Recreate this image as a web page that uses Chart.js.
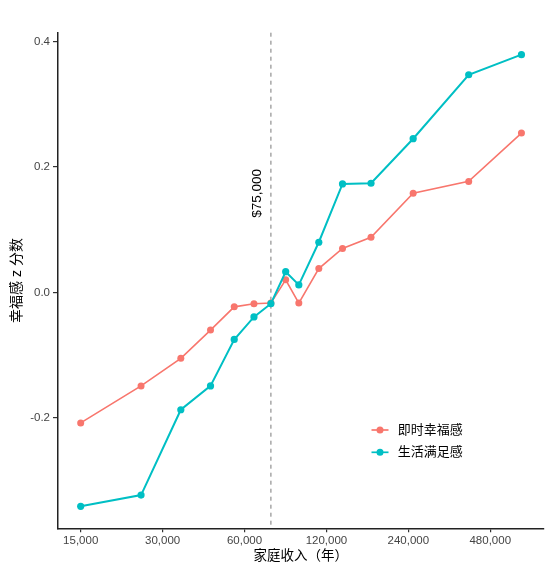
<!DOCTYPE html>
<html>
<head>
<meta charset="utf-8">
<script src="https://cdn.jsdelivr.net/npm/chart.js@4.4.1/dist/chart.umd.min.js"></script>
<style>
  html, body { margin: 0; padding: 0; background: #fff; }
  #wrap { width: 552px; height: 570px; position: relative; }
</style>
</head>
<body>
<div id="wrap"><canvas id="chart"></canvas></div>
<script>
// household income (bin midpoints) and mean z-scores
const incomes = [15000, 25000, 35000, 45000, 55000, 65000, 75000, 85000, 95000, 112500, 137500, 175000, 250000, 400000, 625000];
const experienced = [-0.208, -0.149, -0.105, -0.060, -0.023, -0.018, -0.017, 0.020, -0.017, 0.038, 0.070, 0.088, 0.158, 0.177, 0.254];
const evaluative = [-0.341, -0.323, -0.187, -0.149, -0.075, -0.039, -0.018, 0.033, 0.012, 0.080, 0.173, 0.174, 0.245, 0.347, 0.379];
const xTicks = [15000, 30000, 60000, 120000, 240000, 480000];
const yTicks = [-0.2, 0, 0.2, 0.4];
const seriesNames = ['即时幸福感', '生活满足感'];
const seriesColors = ['#F8766D', '#00BFC4'];
const threshold = 75000;
const thresholdLabel = '$75,000';

const FONT = '"Liberation Sans", "Noto Sans CJK SC", sans-serif';

const toPoints = ys => incomes.map((x, i) => ({ x: x, y: ys[i] }));

// dashed reference line + its label, drawn under the series
const thresholdPlugin = {
  id: 'threshold',
  beforeDatasetsDraw(chart) {
    const { ctx, chartArea, scales } = chart;
    const x = scales.x.getPixelForValue(threshold);
    ctx.save();
    ctx.strokeStyle = '#999';
    ctx.lineWidth = 1.3;
    ctx.setLineDash([4, 4]);
    ctx.beginPath();
    ctx.moveTo(x, chartArea.top);
    ctx.lineTo(x, chartArea.bottom);
    ctx.stroke();
    ctx.setLineDash([]);
    ctx.translate(x - 14, scales.y.getPixelForValue(0.158));
    ctx.rotate(-Math.PI / 2);
    ctx.fillStyle = '#000';
    ctx.font = '13.5px ' + FONT;
    ctx.textAlign = 'center';
    ctx.textBaseline = 'middle';
    ctx.fillText(thresholdLabel, 0, 0);
    ctx.restore();
  }
};

// legend sits inside the panel, lower right
const legendPlugin = {
  id: 'insideLegend',
  afterDraw(chart) {
    const { ctx, chartArea } = chart;
    const cx = chartArea.right - 163.3;
    let cy = chartArea.bottom - 98.3;
    ctx.save();
    ctx.font = '13px ' + FONT;
    ctx.textBaseline = 'middle';
    seriesNames.forEach((name, i) => {
      ctx.strokeStyle = seriesColors[i];
      ctx.fillStyle = seriesColors[i];
      ctx.lineWidth = 1.7;
      ctx.beginPath();
      ctx.moveTo(cx - 8.5, cy);
      ctx.lineTo(cx + 8.5, cy);
      ctx.stroke();
      ctx.beginPath();
      ctx.arc(cx, cy, 3.5, 0, Math.PI * 2);
      ctx.fill();
      ctx.fillStyle = '#000';
      ctx.fillText(name, cx + 17.7, cy);
      cy += 22.3;
    });
    ctx.restore();
  }
};

new Chart(document.getElementById('chart'), {
  type: 'line',
  data: {
    datasets: [
      {
        label: seriesNames[0],
        data: toPoints(experienced),
        borderColor: seriesColors[0],
        backgroundColor: seriesColors[0],
        borderWidth: 1.6,
        pointRadius: 3.5,
        pointBorderWidth: 0,
        order: 1
      },
      {
        label: seriesNames[1],
        data: toPoints(evaluative),
        borderColor: seriesColors[1],
        backgroundColor: seriesColors[1],
        borderWidth: 2,
        pointRadius: 3.6,
        pointBorderWidth: 0,
        order: 0
      }
    ]
  },
  options: {
    responsive: true,
    maintainAspectRatio: false,
    animation: false,
    events: [],
    layout: { padding: { top: 32.7, right: 8.7, left: 0, bottom: 0 } },
    plugins: {
      legend: { display: false },
      tooltip: { enabled: false }
    },
    scales: {
      x: {
        type: 'logarithmic',
        min: 12380,
        max: 752000,
        afterBuildTicks: s => { s.ticks = xTicks.map(v => ({ value: v })); },
        afterFit: s => { s.height = 41.7; },
        ticks: {
          autoSkip: false,
          maxRotation: 0,
          padding: 2,
          color: '#444',
          font: { family: FONT, size: 11.5 },
          callback: v => Number(v).toLocaleString('en-US')
        },
        grid: { display: true, drawOnChartArea: false, drawTicks: true, tickLength: 4, color: '#333', lineWidth: 1.2 },
        border: { display: true, color: '#222', width: 1.5 },
        title: {
          display: true,
          text: '家庭收入（年）',
          color: '#000',
          font: { family: FONT, size: 13.5 },
          padding: { top: 0, bottom: 5.3 }
        }
      },
      y: {
        type: 'linear',
        min: -0.376,
        max: 0.414,
        afterBuildTicks: s => { s.ticks = yTicks.map(v => ({ value: v })); },
        afterFit: s => { s.width = 58; },
        ticks: {
          padding: 3,
          color: '#444',
          font: { family: FONT, size: 11.5 },
          callback: v => Number(v).toFixed(1)
        },
        grid: { display: true, drawOnChartArea: false, drawTicks: true, tickLength: 5, color: '#333', lineWidth: 1.2 },
        border: { display: true, color: '#222', width: 1.5 },
        title: {
          display: true,
          text: '幸福感 z 分数',
          color: '#000',
          font: { family: FONT, size: 14 },
          padding: { top: 8.3, bottom: 0 }
        }
      }
    }
  },
  plugins: [thresholdPlugin, legendPlugin]
});
</script>
</body>
</html>
